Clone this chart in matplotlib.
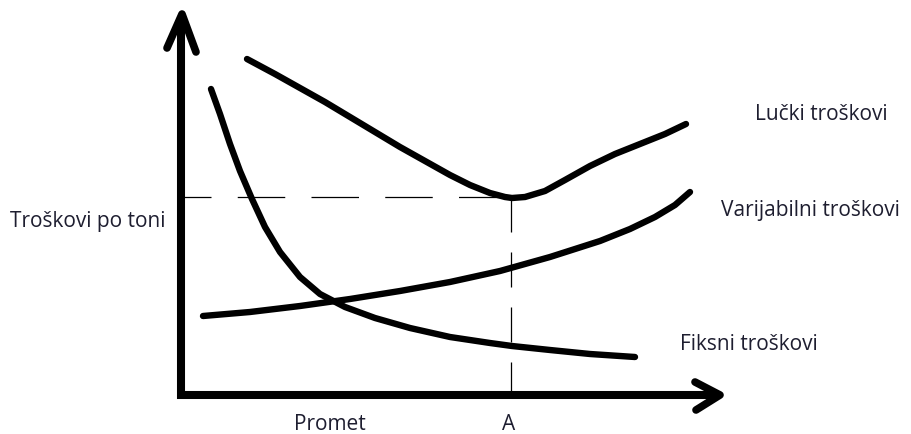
import matplotlib
matplotlib.use("Agg")
from matplotlib import pyplot as plt

# Krivulje (rukom skicirane, očitane sa slike)
lucki_x = [247, 275, 300, 325, 350, 375, 400, 425, 450, 470, 490, 505, 512, 525, 545, 565, 590, 615, 640, 665, 686]
lucki_y = [60, 75, 89, 103, 118, 133, 148, 162, 176, 186, 194, 198, 199, 198, 192, 181, 167, 155, 145, 135, 125]

var_x = [203, 250, 300, 350, 400, 450, 500, 550, 600, 630, 655, 675, 690]
var_y = [317, 313, 307, 300, 292, 283, 272, 258, 242, 230, 218, 206, 193]

fiks_x = [211, 220, 230, 240, 252, 265, 280, 300, 320, 345, 375, 410, 450, 490, 512, 550, 590, 635]
fiks_y = [90, 115, 145, 172, 200, 228, 253, 278, 295, 308, 319, 329, 338, 344, 347, 351, 355, 358]

# Oznake
labels = ['Lučki troškovi', 'Varijabilni troškovi', 'Fiksni troškovi']
label_pos = [(755, 115), (721, 211), (680, 345)]
y_label = 'Troškovi po toni'
x_label = 'Promet'
a_label = 'A'

x0, y0 = 181, 396      # ishodište
a_x, a_y = 511, 198    # točka minimuma

fig = plt.figure(figsize=(9.12, 4.35), dpi=100)
ax = fig.add_axes([0, 0, 1, 1])
ax.set_xlim(0, 912)
ax.set_ylim(435, 0)
ax.axis('off')

txt = dict(fontsize=15, color='#1e1e30', family='Open Sans')

# osi
ax.plot([x0, x0, 716], [18, y0, y0], color='black', lw=5.8,
        solid_capstyle='butt', solid_joinstyle='miter')
ax.plot([167, x0 + 1, 196], [49, 15, 53], color='black', lw=5.5,
        solid_capstyle='round', solid_joinstyle='round')
ax.plot([695, 720, 696], [383, 396, 411], color='black', lw=5.5,
        solid_capstyle='round', solid_joinstyle='round')

# isprekidane linije
ax.plot([x0, a_x], [a_y, a_y], color='black', lw=0.9, linestyle=(14, (38, 21)))
ax.plot([a_x, a_x], [a_y, y0], color='black', lw=0.9, linestyle=(0, (28, 16)))

# krivulje
for xs, ys in [(lucki_x, lucki_y), (var_x, var_y), (fiks_x, fiks_y)]:
    ax.plot(xs, ys, color='black', lw=4.6, solid_capstyle='round', solid_joinstyle='round')

for lab, (tx, ty) in zip(labels, label_pos):
    ax.text(tx, ty, lab, ha='left', va='center', **txt)

ax.text(10, 222, y_label, ha='left', va='center', **txt)
ax.text(330, 425, x_label, ha='center', va='center', **txt)
ax.text(a_x - 2, 425, a_label, ha='center', va='center', **txt)

plt.savefig('out.png', dpi=100)
